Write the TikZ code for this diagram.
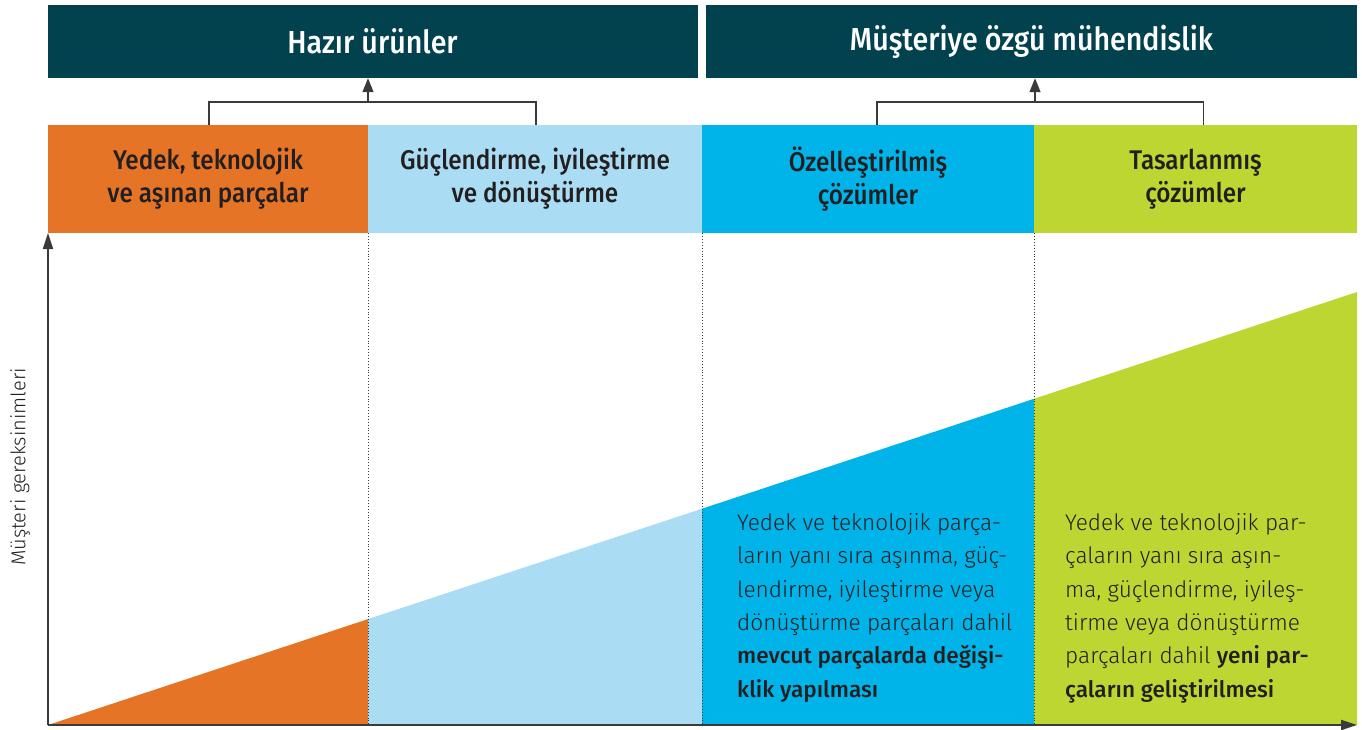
\documentclass[tikz,border=0pt]{standalone}
\usepackage{fontspec}
\setmainfont{Fira Sans}
\newfontfamily\fmed{Fira Sans Medium}[FakeStretch=0.9]
\newfontfamily\fbold{Fira Sans Medium}
\newfontfamily\flight{Fira Sans Light}
\usetikzlibrary{arrows.meta}
\definecolor{teal}{HTML}{02424F}
\definecolor{orng}{HTML}{E57427}
\definecolor{lblue}{HTML}{AADCF4}
\definecolor{cblue}{HTML}{00B4E9}
\definecolor{lgreen}{HTML}{BDD631}
\definecolor{ink}{HTML}{231F20}
\definecolor{lineg}{HTML}{3A3A3A}
\tikzset{
  hdr/.style={fill=teal, text=white, minimum height=73, inner sep=0,
    font=\fmed\fontsize{31.8}{36}\selectfont},
  cat/.style={minimum height=108, inner sep=0, text=ink, align=center,
    font=\fmed\fontsize{27}{33}\selectfont},
  body/.style={inner sep=0, anchor=base west, align=left, text=ink,
    font=\flight\fontsize{22.6}{33.3}\selectfont},
  link/.style={draw=lineg, line width=1.3pt},
  uparrow/.style={link, -{Triangle[length=14pt,width=11pt]}},
  axis/.style={draw=lineg, line width=1.9pt, -{Triangle[length=16pt,width=10pt]}},
  divider/.style={draw=lineg, line width=0.9pt, dotted},
}
\begin{document}
\begin{tikzpicture}[x=1pt,y=-1pt]
\useasboundingbox (0,0) rectangle (1362,729);
% header boxes
\node[hdr, minimum width=650] (h1) at (372.5,41.5) {Hazır ürünler};
\node[hdr, minimum width=651] (h2) at (1031.5,41.5) {Müşteriye özgü mühendislik};
% category boxes
\node[cat, fill=orng, minimum width=320] (c1) at (208,179) {Yedek, teknolojik\\ve aşınan parçalar};
\node[cat, fill=lblue, minimum width=334] (c2) at (535,179) {Güçlendirme, iyileştirme\\ve dönüştürme};
\node[cat, fill=cblue, minimum width=332] (c3) at (868,179) {Özelleştirilmiş\\çözümler};
\node[cat, fill=lgreen, minimum width=323] (c4) at (1195.5,179) {Tasarlanmış\\çözümler};
% area fills
\fill[orng] (48,725) -- (368,619.1) -- (368,725) -- cycle;
\fill[lblue] (368,725) -- (368,619.1) -- (702,508.7) -- (702,725) -- cycle;
\fill[cblue] (702,725) -- (702,508.7) -- (1034,398.8) -- (1034,725) -- cycle;
\fill[lgreen] (1034,725) -- (1034,398.8) -- (1357,292) -- (1357,725) -- cycle;
% axes
\coordinate (O) at (48,725);
\coordinate (ytop) at (48,233);
\coordinate (xend) at (1357,725);
% dividers
\draw[divider] (c1.south east) -- (c1.south east |- O);
\draw[divider] (c2.south east) -- (c2.south east |- O);
\draw[divider] (c3.south east) -- (c3.south east |- O);
\draw[axis] (O) -- (ytop);
\draw[axis] (O) -- (xend);
% connectors
\coordinate (j1) at (368,102);
\coordinate (j2) at (1035,102);
\draw[link] ([xshift=1pt]c1.north) |- (j1) -| ([xshift=1pt]c2.north);
\draw[uparrow] (j1) -- (j1 |- h1.south);
\draw[link] ([xshift=9pt]c3.north) |- (j2) -| ([xshift=8pt]c4.north);
\draw[uparrow] (j2) -- (j2 |- h2.south);
% axis label
\node[rotate=90, text=ink, font=\flight\fontsize{20}{24}\selectfont] (ylab) at (20,467) {Müşteri gereksinimleri};
% body texts
\node[body] (t1) at (737,697) {Yedek ve teknolojik parça-\\ların yanı sıra aşınma, güç-\\lendirme, iyileştirme veya\\dönüştürme parçaları dahil\\{\fbold mevcut parçalarda değişi-}\\{\fbold klik yapılması}};
\node[body] (t2) at (1065,697) {Yedek ve teknolojik par-\\çaların yanı sıra aşın-\\ma, güçlendirme, iyileş-\\tirme veya dönüştürme\\parçaları dahil {\fbold yeni par-}\\{\fbold çaların geliştirilmesi}};
\end{tikzpicture}
\end{document}
